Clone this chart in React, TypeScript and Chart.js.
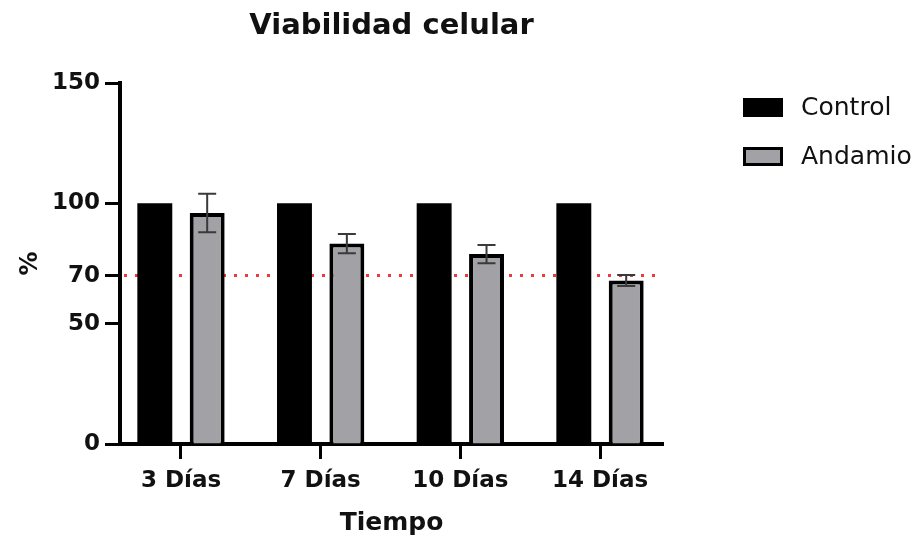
import React, { useEffect, useRef } from "react";
import { Chart, registerables } from "chart.js";

Chart.register(...registerables);

const TITLE = "Viabilidad celular";
const X_TITLE = "Tiempo";
const Y_TITLE = "%";
const CATEGORIES = ["3 Días", "7 Días", "10 Días", "14 Días"];
const SERIES_NAMES = ["Control", "Andamio"];
const CONTROL = [100, 100, 100, 100];
const ANDAMIO = [96, 83.3, 78.9, 67.9];
const ANDAMIO_ERR = [8, 4, 3.8, 2.3];
const Y_TICKS = [0, 50, 70, 100, 150];
const THRESHOLD = 70;

const FONT = "'DejaVu Sans', sans-serif";
const TEXT = "#111";
const GRAY = "#a2a2a6";

const thresholdPlugin = {
  id: "threshold",
  beforeDatasetsDraw(chart: any) {
    const { ctx, chartArea, scales } = chart;
    const y = scales.y.getPixelForValue(THRESHOLD);
    ctx.save();
    ctx.strokeStyle = "#ee3a3a";
    ctx.lineWidth = 3;
    ctx.setLineDash([3, 8]);
    ctx.beginPath();
    ctx.moveTo(chartArea.left + 4, y);
    ctx.lineTo(chartArea.right, y);
    ctx.stroke();
    ctx.restore();
  },
};

const errorBarPlugin = {
  id: "errorBars",
  afterDatasetsDraw(chart: any) {
    const { ctx, scales } = chart;
    const meta = chart.getDatasetMeta(1);
    ctx.save();
    ctx.strokeStyle = "#3a3a3a";
    ctx.lineWidth = 2;
    meta.data.forEach((el: any, i: number) => {
      const v = ANDAMIO[i];
      const e = ANDAMIO_ERR[i];
      const yt = scales.y.getPixelForValue(v + e);
      const yb = scales.y.getPixelForValue(v - e);
      const x = el.x;
      const hw = 9;
      ctx.beginPath();
      ctx.moveTo(x, yt);
      ctx.lineTo(x, yb);
      ctx.moveTo(x - hw, yt);
      ctx.lineTo(x + hw, yt);
      ctx.moveTo(x - hw, yb);
      ctx.lineTo(x + hw, yb);
      ctx.stroke();
    });
    ctx.restore();
  },
};

const legendPlugin = {
  id: "customLegend",
  afterDraw(chart: any) {
    const { ctx } = chart;
    ctx.save();
    chart.data.datasets.forEach((ds: any, i: number) => {
      const bx = 743;
      const by = 98 + i * 49;
      const bw = 40;
      const bh = 19;
      ctx.fillStyle = ds.backgroundColor;
      ctx.fillRect(bx, by, bw, bh);
      if (ds.borderWidth) {
        ctx.strokeStyle = ds.borderColor;
        ctx.lineWidth = 3;
        ctx.strokeRect(bx + 1.5, by + 1.5, bw - 3, bh - 3);
      }
      ctx.fillStyle = TEXT;
      ctx.font = `25px ${FONT}`;
      ctx.textBaseline = "middle";
      ctx.textAlign = "left";
      ctx.fillText(ds.label, 801, by + bh / 2 + 1);
    });
    ctx.restore();
  },
};

export default function App() {
  const ref = useRef<HTMLCanvasElement | null>(null);

  useEffect(() => {
    if (!ref.current) return;
    Chart.defaults.font.family = FONT;
    const chart = new Chart(ref.current, {
      type: "bar",
      data: {
        datasets: [
          {
            label: SERIES_NAMES[0],
            data: CONTROL.map((v, i) => ({ x: i, y: v })),
            backgroundColor: "#000",
            borderColor: "#000",
            borderWidth: 0,
            barPercentage: 0.667,
            categoryPercentage: 0.75,
          },
          {
            label: SERIES_NAMES[1],
            data: ANDAMIO.map((v, i) => ({ x: i, y: v })),
            backgroundColor: GRAY,
            borderColor: "#000",
            borderWidth: 4,
            barPercentage: 0.667,
            categoryPercentage: 0.75,
          },
        ],
      } as any,
      options: {
        animation: false,
        responsive: true,
        maintainAspectRatio: false,
        layout: { padding: { left: 0, right: 259, top: 0, bottom: 0 } },
        plugins: {
          legend: { display: false },
          tooltip: { enabled: false },
          title: {
            display: true,
            text: TITLE,
            fullSize: false,
            color: TEXT,
            font: { size: 29, weight: "bold" },
            padding: { top: 8.6, bottom: 39.6 },
          },
        },
        scales: {
          x: {
            type: "linear",
            min: -0.4367,
            max: 3.451,
            offset: false,
            afterBuildTicks: (s: any) => {
              s.ticks = CATEGORIES.map((_, i) => ({ value: i }));
            },
            afterFit: (s: any) => {
              s.height = 99;
            },
            ticks: {
              callback: (v: any) => CATEGORIES[v as number],
              autoSkip: false,
              maxRotation: 0,
              padding: 8,
              color: TEXT,
              font: { size: 23, weight: "bold" },
            },
            grid: {
              display: true,
              offset: false,
              drawOnChartArea: false,
              drawTicks: true,
              tickLength: 15,
              tickColor: "#000",
              tickWidth: 3,
            },
            border: { display: true, color: "#000", width: 4 },
            title: {
              display: true,
              text: X_TITLE,
              color: TEXT,
              font: { size: 25, weight: "bold" },
              padding: { top: 0, bottom: 5 },
            },
          },
          y: {
            min: 0,
            max: 150,
            afterBuildTicks: (s: any) => {
              s.ticks = Y_TICKS.map((v) => ({ value: v }));
            },
            afterFit: (s: any) => {
              s.width = 120;
            },
            ticks: {
              padding: 5,
              color: TEXT,
              font: { size: 23, weight: "bold" },
            },
            grid: {
              display: true,
              drawOnChartArea: false,
              drawTicks: true,
              tickLength: 15,
              tickColor: "#000",
              tickWidth: 3,
            },
            border: { display: true, color: "#000", width: 4 },
            title: {
              display: true,
              text: Y_TITLE,
              color: TEXT,
              font: { size: 24, weight: "bold" },
              padding: { top: 16.6, bottom: 0 },
            },
          },
        },
      } as any,
      plugins: [thresholdPlugin, errorBarPlugin, legendPlugin],
    });
    return () => chart.destroy();
  }, []);

  return (
    <div style={{ position: "absolute", left: 0, top: 0, width: 922, height: 543, background: "#fff" }}>
      <canvas ref={ref} />
    </div>
  );
}
